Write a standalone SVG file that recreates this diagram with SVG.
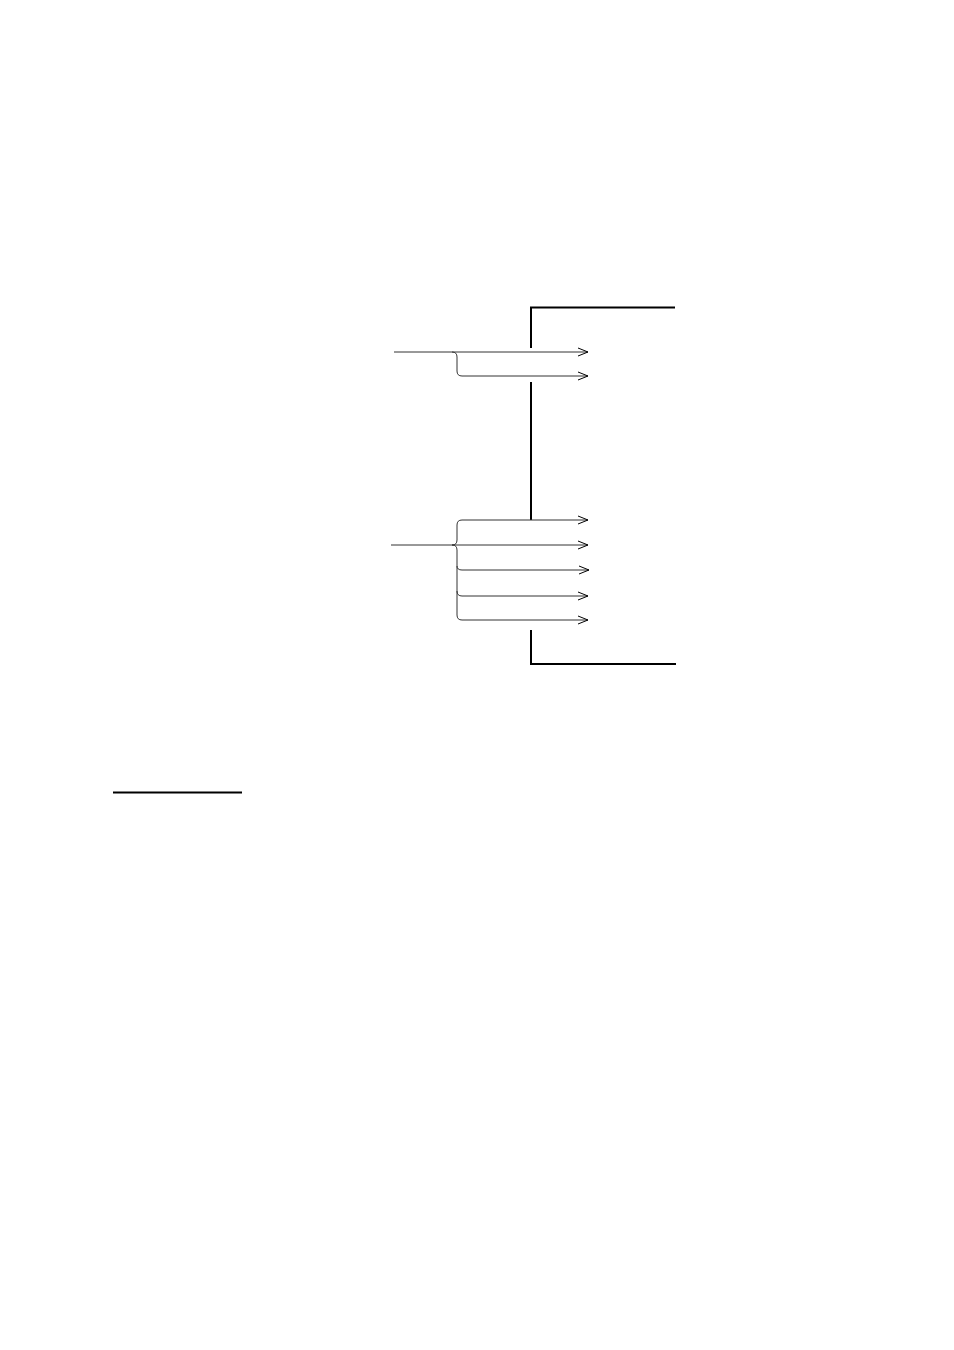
<svg xmlns="http://www.w3.org/2000/svg" width="954" height="1350" viewBox="0 0 954 1350">
<defs>
<marker id="ah" markerWidth="12" markerHeight="10" refX="11" refY="5" orient="auto" markerUnits="userSpaceOnUse">
<path d="M1,1 L11,5 L1,9" fill="none" stroke="#000" stroke-width="1"/>
</marker>
<style>
.arr{fill:none;stroke:#333;stroke-width:1;marker-end:url(#ah)}
.br{fill:none;stroke:#333;stroke-width:1}
.frame{fill:none;stroke:#000;stroke-width:2}
</style>
</defs>
<rect width="954" height="1350" fill="#fff"/>
<g id="frame">
<path class="frame" d="M675,307.5 L531,307.5 L531,348"/>
<path class="frame" d="M531,382 L531,520"/>
<path class="frame" d="M531,630 L531,664 L676,664"/>
</g>
<g id="connectors">
<path class="arr" d="M394,352 L588,352"/>
<path class="br" d="M452,352 Q457,352 457,357 L457,371 Q457,376 462,376"/>
<path class="arr" d="M462,376 L588,376"/>
<path class="br" d="M462,520 Q457,520 457,525 L457,540 Q457,545 452,545 Q457,545 457,550 L457,615 Q457,620 462,620"/>
<path class="arr" d="M391,545 L588,545"/>
<path class="arr" d="M462,520 L588,520"/>
<path class="br" d="M457,566 Q457,570 462,570"/>
<path class="arr" d="M462,570 L589,570"/>
<path class="br" d="M457,591 Q457,596 462,596"/>
<path class="arr" d="M462,596 L588,596"/>
<path class="arr" d="M462,620 L588,620"/>
</g>
<g id="underline">
<line x1="113" y1="792.5" x2="242" y2="792.5" stroke="#000" stroke-width="2"/>
</g>
</svg>
